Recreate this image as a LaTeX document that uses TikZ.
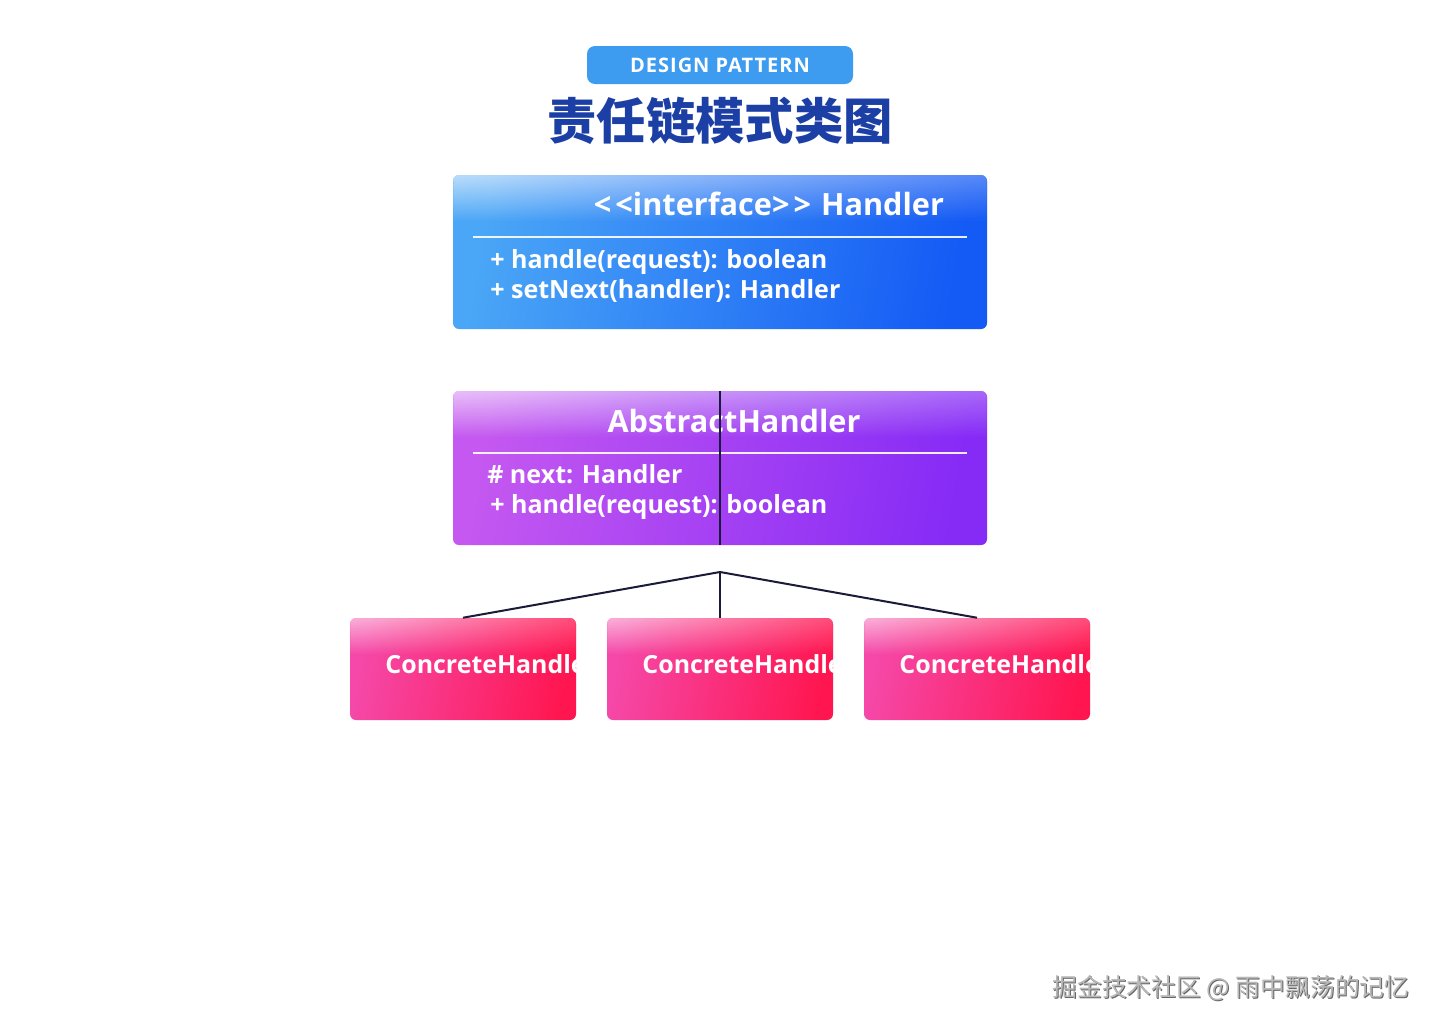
\documentclass[tikz,border=0pt]{standalone}
\usepackage{fontspec}
\setmainfont{Open Sans}
\newfontfamily\cjk{Noto Sans CJK SC}
\usetikzlibrary{calc}
\definecolor{badgeblue}{HTML}{3D9BF0}
\definecolor{titleblue}{HTML}{1C3FA5}
\definecolor{hA}{HTML}{4AA6F6}
\definecolor{hB}{HTML}{145AF5}
\definecolor{pA}{HTML}{C458F0}
\definecolor{pB}{HTML}{862BF6}
\definecolor{kA}{HTML}{F548A8}
\definecolor{kB}{HTML}{FF1650}
\definecolor{navy}{HTML}{1A1A3A}
\newcommand\hlite[3]{% #1 strips, #2 right colour, #3 max opacity
  \foreach \i in {1,...,#1}{%
    \shade[left color=white, right color=#2, opacity={#3*(1-(\i-1)/#1)}]
      ($(path picture bounding box.north west)+(-3pt,{-(\i-1)*1.5pt})$) rectangle
      ($(path picture bounding box.north east)+(3pt,{-\i*1.5pt-0.1pt})$);}}
\tikzset{
  px/.style={x=0.75pt,y=-0.75pt},
  umlbox/.style={rounded corners=4.5pt, inner sep=0pt, minimum width=400.5pt, minimum height=115.5pt},
  concbox/.style={rounded corners=4.5pt, inner sep=0pt, minimum width=169.5pt, minimum height=76.5pt,
    left color=kA, right color=kB, shading angle=80,
    path picture={\hlite{18}{white!40!kB}{0.55}
      \node[anchor=base west, inner sep=0pt, text=white, font=\fontsize{18.7}{20}\selectfont\bfseries]
        at ($(path picture bounding box.north west)+(21pt,-41.25pt)$) {ConcreteHandler};}},
  wtext/.style={text=white, inner sep=0pt},
  hfont/.style={font=\fontsize{23}{26}\selectfont\bfseries},
  mfont/.style={font=\fontsize{18.8}{21}\selectfont\bfseries},
  conn/.style={draw=navy, line width=1.5pt},
}
\begin{document}
\begin{tikzpicture}[px]
\useasboundingbox[fill=white] (0,0) rectangle (1440,1029);
% badge and title
\node[fill=badgeblue, rounded corners=6pt, minimum width=199.5pt, minimum height=28.5pt, inner sep=0pt] (badge) at (720,65) {};
\node[wtext, anchor=base, font=\fontsize{15}{17}\selectfont\bfseries\addfontfeatures{LetterSpace=5}] (badgetxt) at (720,72) {DESIGN PATTERN};
\node[text=titleblue, inner sep=0pt, font=\cjk\fontsize{37}{40}\selectfont\bfseries] (title) at (720,121) {责任链模式类图};
% Handler interface box
\node[umlbox, left color=hA, right color=hB, shading angle=80,
  path picture={\hlite{23}{white!45!hB}{0.6}}] (handler) at (720,252) {};
\node[wtext, anchor=base, hfont] (htitle) at (769,215) {<\kern3pt<interface>\kern3pt>\kern1.5pt{} Handler};
\draw[white, line width=0.8pt, opacity=0.9] (473,237) -- (967,237);
\node[wtext, anchor=base west, mfont] (hm1) at (490,268) {+ handle(request): boolean};
\node[wtext, anchor=base west, mfont] (hm2) at (490,298) {+ setNext(handler): Handler};
% AbstractHandler box
\node[umlbox, left color=pA, right color=pB, shading angle=80,
  path picture={\hlite{23}{white!45!pB}{0.6}}] (abs) at (720,468) {};
\node[wtext, anchor=base, hfont] (atitle) at (734,432) {AbstractHandler};
\draw[white, line width=0.8pt, opacity=0.9] (473,453) -- (967,453);
\node[wtext, anchor=base west, mfont] (am1) at (487,483) {\# next: Handler};
\node[wtext, anchor=base west, mfont] (am2) at (490,513) {+ handle(request): boolean};
\draw[navy, line width=1.5pt] (abs.north) -- (abs.south);
% concrete handlers
\node[concbox] (c1) at (463,669) {};
\node[concbox] (c2) at (720,669) {};
\node[concbox] (c3) at (977,669) {};
\coordinate (j) at (720,572);
\draw[conn] (j) -- (c1.north);
\draw[conn] (j) -- (c2.north);
\draw[conn] (j) -- (c3.north);
% watermark
\node[text=black!60, inner sep=0pt, font=\cjk\fontsize{18.6}{20}\selectfont] (wms) at (1232,989) {掘金技术社区 @ 雨中飘荡的记忆};
\node[text=black!28, inner sep=0pt, font=\cjk\fontsize{18.6}{20}\selectfont] (wm) at (1231,988) {掘金技术社区 @ 雨中飘荡的记忆};
\end{tikzpicture}
\end{document}
